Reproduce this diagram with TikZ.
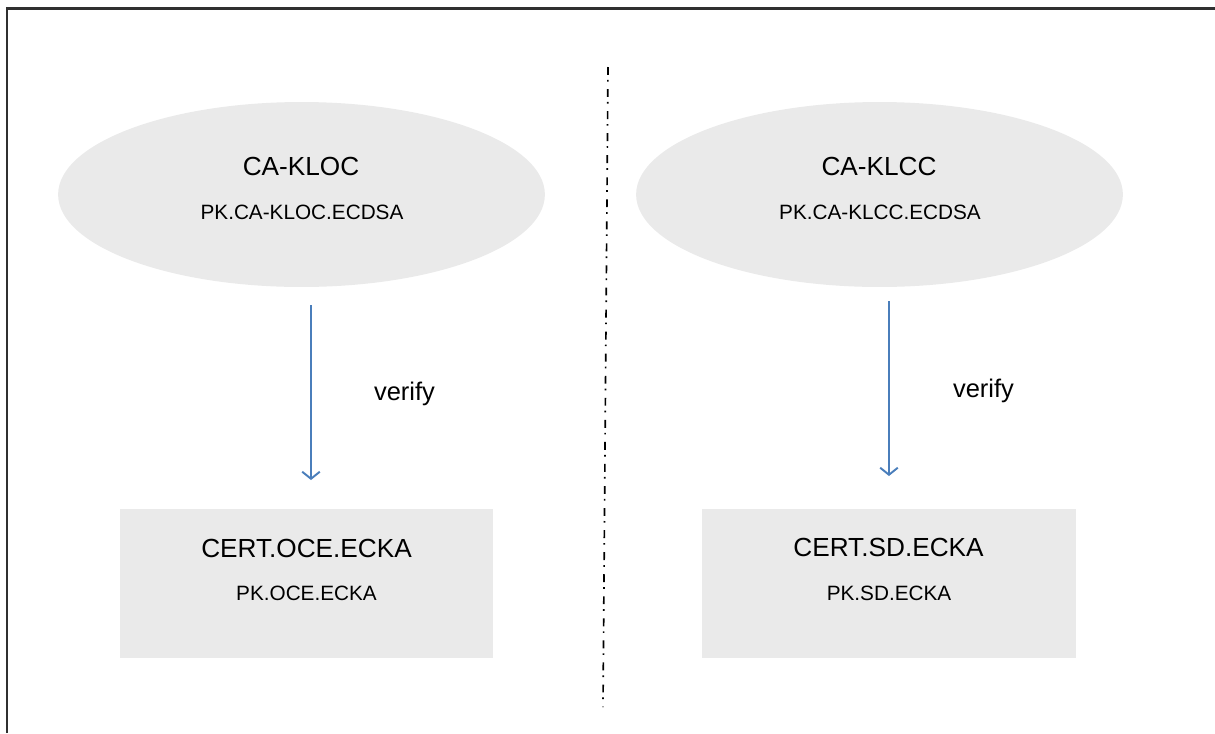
\documentclass[tikz,border=0pt]{standalone}
\usepackage{fontspec}
\setmainfont{Liberation Sans}
\usepackage{xcolor}
\usetikzlibrary{arrows.meta,shapes.geometric}
\definecolor{keygray}{HTML}{EAEAEA}
\definecolor{verifyblue}{HTML}{4A7EBB}
\definecolor{framegray}{HTML}{303030}
\begin{document}
\begin{tikzpicture}[scale=0.2]
\tikzstyle{every node}+=[inner sep=0pt]
\tikzstyle{caoval}=[ellipse, fill=keygray, minimum width=554pt, minimum height=210.5pt]
\tikzstyle{certbox}=[rectangle, fill=keygray, minimum width=425.6pt, minimum height=169.6pt]
\tikzstyle{title}=[anchor=base, font=\fontsize{29.8}{34}\selectfont]
\tikzstyle{pubkey}=[anchor=base, font=\fontsize{23.6}{28}\selectfont]
\tikzstyle{lbl}=[anchor=base, font=\fontsize{29}{34}\selectfont]
\tikzstyle{flow}=[verifyblue, line width=3.1pt, -{Straight Barb[length=8pt, width=20pt, line width=2.2pt]}]
\useasboundingbox (0,0) rectangle (243,-146.6);
\draw [framegray, line width=2.3pt] (1.4,-146.6) -- (1.4,-1.7) -- (243,-1.7);
\draw [black, line width=1.9pt, dash pattern=on 9pt off 5.7pt on 1.9pt off 8.5pt] (121.6,-13.4) -- (120.6,-141.4);
\node [caoval] (kloc) at (60.3,-38.9) {};
\node [caoval] (klcc) at (175.9,-38.9) {};
\node [certbox] (oce) at (61.3,-116.7) {};
\node [certbox] (sd) at (177.8,-116.7) {};
\node [title] (klocname) at (60.2,-35) {CA-KLOC};
\node [pubkey] (klocpk) at (60.4,-43.8) {PK.CA-KLOC.ECDSA};
\node [title] (klccname) at (175.8,-35) {CA-KLCC};
\node [pubkey] (klccpk) at (176,-43.8) {PK.CA-KLCC.ECDSA};
\node [title] (ocename) at (61.3,-111.4) {CERT.OCE.ECKA};
\node [pubkey] (ocepk) at (61.3,-120) {PK.OCE.ECKA};
\node [title] (sdname) at (177.7,-111.2) {CERT.SD.ECKA};
\node [pubkey] (sdpk) at (177.8,-120) {PK.SD.ECKA};
\coordinate (klocout) at (62.2,-61);
\coordinate (ocein) at (62.2,-96);
\coordinate (klccout) at (177.8,-60.2);
\coordinate (sdin) at (177.8,-95.2);
\draw [flow] (klocout) -- (ocein);
\draw [flow] (klccout) -- (sdin);
\node [lbl] (verifyl) at (80.9,-80) {verify};
\node [lbl] (verifyr) at (196.7,-79.4) {verify};
\end{tikzpicture}
\end{document}
